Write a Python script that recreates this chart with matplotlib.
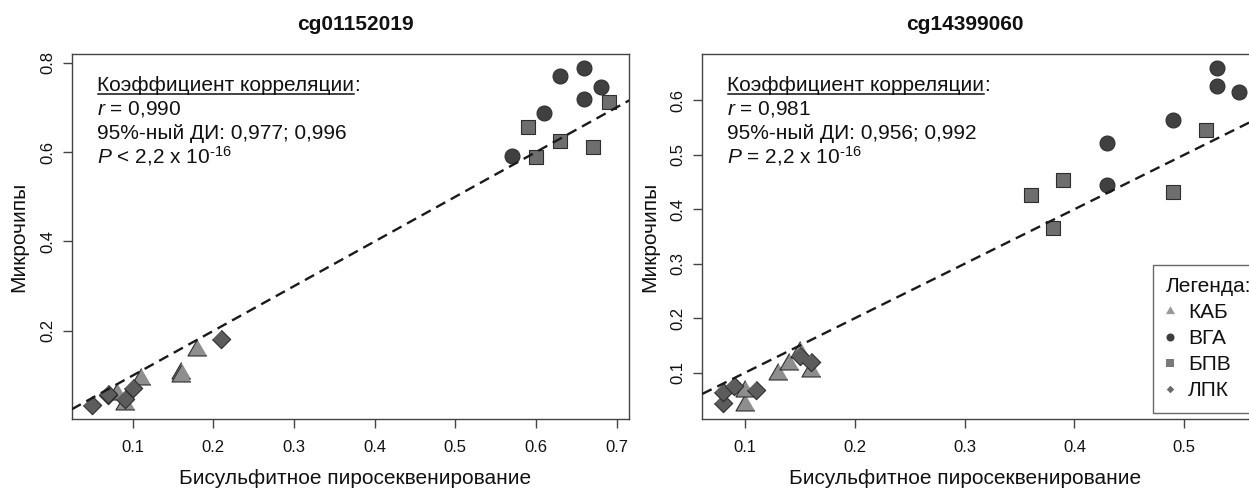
import numpy as np
import matplotlib
matplotlib.use("Agg")
import matplotlib.pyplot as plt
from matplotlib.lines import Line2D

plt.rcParams["font.family"] = ["Liberation Sans", "DejaVu Sans"]
plt.rcParams["mathtext.fontset"] = "custom"
plt.rcParams["mathtext.rm"] = "Liberation Sans"
plt.rcParams["mathtext.it"] = "Liberation Sans:italic"
plt.rcParams["lines.scale_dashes"] = False

# ---------------- data ----------------
groups = ["КАБ", "ВГА", "БПВ", "ЛПК"]

# cg01152019: pyrosequencing (x) vs microarray (y)
cg1_kab_x = [0.08, 0.09, 0.11, 0.16, 0.16, 0.18]
cg1_kab_y = [0.058, 0.037, 0.092, 0.105, 0.098, 0.157]
cg1_vga_x = [0.57, 0.61, 0.63, 0.66, 0.66, 0.68]
cg1_vga_y = [0.591, 0.688, 0.770, 0.789, 0.718, 0.746]
cg1_bpv_x = [0.59, 0.60, 0.63, 0.67, 0.69]
cg1_bpv_y = [0.655, 0.588, 0.625, 0.612, 0.711]
cg1_lpk_x = [0.05, 0.07, 0.07, 0.09, 0.10, 0.21]
cg1_lpk_y = [0.033, 0.056, 0.059, 0.048, 0.071, 0.182]

# cg14399060
cg2_kab_x = [0.10, 0.10, 0.13, 0.14, 0.15, 0.16]
cg2_kab_y = [0.040, 0.067, 0.098, 0.116, 0.138, 0.104]
cg2_vga_x = [0.43, 0.43, 0.49, 0.53, 0.53, 0.55]
cg2_vga_y = [0.521, 0.445, 0.563, 0.660, 0.627, 0.616]
cg2_bpv_x = [0.36, 0.38, 0.39, 0.49, 0.52]
cg2_bpv_y = [0.426, 0.366, 0.454, 0.432, 0.546]
cg2_lpk_x = [0.08, 0.08, 0.09, 0.11, 0.15, 0.16]
cg2_lpk_y = [0.045, 0.064, 0.075, 0.068, 0.130, 0.120]

titles = ["cg01152019", "cg14399060"]
stats = [("0,990", "0,977; 0,996", "<"), ("0,981", "0,956; 0,992", "=")]
x_ticks = [[0.1, 0.2, 0.3, 0.4, 0.5, 0.6, 0.7], [0.1, 0.2, 0.3, 0.4, 0.5]]
y_ticks = [[0.2, 0.4, 0.6, 0.8], [0.1, 0.2, 0.3, 0.4, 0.5, 0.6]]

panels = [
    [(cg1_kab_x, cg1_kab_y), (cg1_vga_x, cg1_vga_y), (cg1_bpv_x, cg1_bpv_y), (cg1_lpk_x, cg1_lpk_y)],
    [(cg2_kab_x, cg2_kab_y), (cg2_vga_x, cg2_vga_y), (cg2_bpv_x, cg2_bpv_y), (cg2_lpk_x, cg2_lpk_y)],
]

# ---------------- styles ----------------
TRI = [(0, 1), (-0.866, -0.5), (0.866, -0.5)]
DIA = [(0, 1), (1, 0), (0, -1), (-1, 0)]
point_style = {
    "КАБ": dict(marker=TRI, s=250, fc="#8e8e8e"),
    "ВГА": dict(marker="o", s=115, fc="#404040"),
    "БПВ": dict(marker="s", s=90, fc="#6e6e6e"),
    "ЛПК": dict(marker=DIA, s=175, fc="#5c5c5c"),
}
legend_style = {
    "КАБ": dict(marker=TRI, markersize=7.6, color="#999999"),
    "ВГА": dict(marker="o", markersize=5.8, color="#3d3d3d"),
    "БПВ": dict(marker="s", markersize=5.2, color="#7a7a7a"),
    "ЛПК": dict(marker=DIA, markersize=5.4, color="#6a6a6a"),
}
FRAME = "#444444"
TXT = "#111111"

W, H = 1249, 488
fig = plt.figure(figsize=(W / 100, H / 100), dpi=100)

ax_left_px = [71.7, 702.3]
ax_w_px, ax_top, ax_bot = 557.6, 54, 419
title_x_px = [355.5, 965]


def data_limits(series):
    xs = np.concatenate([np.asarray(s[0]) for s in series])
    ys = np.concatenate([np.asarray(s[1]) for s in series])
    def ext(v):
        r = v.max() - v.min()
        return v.min() - 0.04 * r, v.max() + 0.04 * r
    return ext(xs), ext(ys)


for i, series in enumerate(panels):
    ax = fig.add_axes([ax_left_px[i] / W, (H - ax_bot) / H, ax_w_px / W, (ax_bot - ax_top) / H])
    for g, (xs, ys) in zip(groups, series):
        st = point_style[g]
        ax.scatter(xs, ys, marker=st["marker"], s=st["s"], facecolor=st["fc"],
                   edgecolor="#2e2e2e", linewidth=0.8, zorder=3)
    ax.axline((0, 0), slope=1, color="#1a1a1a", lw=1.7, dashes=(7.5, 4.5), zorder=4)

    (x0, x1), (y0, y1) = data_limits(series)
    ax.set_xlim(x0, x1)
    ax.set_ylim(y0, y1)
    ax.set_xticks(x_ticks[i])
    ax.set_yticks(y_ticks[i])
    ax.set_xticklabels([f"{t:.1f}" for t in x_ticks[i]])
    ax.set_yticklabels([f"{t:.1f}" for t in y_ticks[i]])
    for sp in ax.spines.values():
        sp.set_color(FRAME)
        sp.set_linewidth(1.0)
    ax.tick_params(direction="out", length=6.5, width=1.0, color=FRAME,
                   labelsize=12, labelcolor=TXT)
    ax.tick_params(axis="x", pad=8.5)
    ax.tick_params(axis="y", pad=5.5)
    for lab in ax.get_yticklabels():
        lab.set_rotation(90)
        lab.set_va("center")

    # titles and axis labels
    fig.text(title_x_px[i] / W, 1 - 25 / H, titles[i], ha="center", va="center",
             fontsize=15, fontweight="bold", color=TXT)
    fig.text(title_x_px[i] / W, 1 - 478 / H, "Бисульфитное пиросеквенирование",
             ha="center", va="center", fontsize=15, color=TXT)
    fig.text((ax_left_px[i] - 53) / W, 1 - 236.5 / H, "Микрочипы", rotation=90,
             ha="center", va="center", fontsize=15, color=TXT)

    # correlation summary
    tx = 0.045
    r, ci, rel = stats[i]
    head = ax.text(tx, 0.8995, "Коэффициент корреляции", transform=ax.transAxes,
                   fontsize=15, va="baseline", ha="left", color=TXT)
    fig.canvas.draw()
    bb = head.get_window_extent()
    inv = ax.transAxes.inverted()
    base_disp = ax.transAxes.transform((tx, 0.8995))[1]
    cx, _ = inv.transform((bb.x1, base_disp))
    ax.text(cx, 0.8995, ":", transform=ax.transAxes, fontsize=15,
            va="baseline", ha="left", color=TXT)
    ua = inv.transform((bb.x0 + 1, base_disp - 3))
    ub = inv.transform((bb.x1, base_disp - 3))
    ax.add_line(Line2D([ua[0], ub[0]], [ua[1], ub[1]], transform=ax.transAxes,
                       color=TXT, lw=1.1))
    ax.text(tx, 0.833, f"$r$ = {r}", transform=ax.transAxes, fontsize=15,
            va="baseline", ha="left", color=TXT)
    ax.text(tx, 0.766, f"95%-ный ДИ: {ci}", transform=ax.transAxes, fontsize=15,
            va="baseline", ha="left", color=TXT)
    ax.text(tx, 0.7005, f"$P$ {rel} 2,2 x 10$^{{\\text{{-16}}}}$", transform=ax.transAxes,
            fontsize=15, va="baseline", ha="left", color=TXT)

    if i == 1:
        handles = [Line2D([], [], linestyle="none", markeredgewidth=0, **legend_style[g])
                   for g in groups]
        leg = ax.legend(handles, groups, title="Легенда:", loc="lower right",
                        bbox_to_anchor=(1 + 3.5 / ax_w_px, 6 / (ax_bot - ax_top)),
                        borderaxespad=0, fontsize=15, title_fontsize=15,
                        frameon=True, fancybox=False, edgecolor=FRAME,
                        borderpad=0.6, handlelength=0.43, handletextpad=0.65,
                        labelspacing=0.34, alignment="left")
        leg.get_frame().set_linewidth(1.0)
        leg.get_title().set_color(TXT)
        for t in leg.get_texts():
            t.set_color(TXT)

fig.savefig("out.png", dpi=100)
